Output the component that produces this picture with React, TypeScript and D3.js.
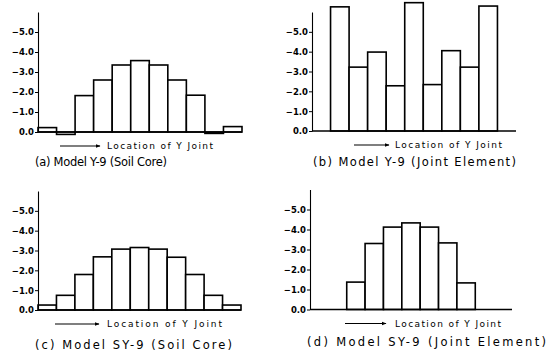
import { useRef, useEffect } from 'react';
import * as d3 from 'd3';

// joint positions along the model (11 locations)
const locations = [1, 2, 3, 4, 5, 6, 7, 8, 9, 10, 11];

// (a) Model Y-9, soil core
const soilCoreY9 = [-0.22, 0.12, -1.82, -2.6, -3.35, -3.57, -3.35, -2.6, -1.84, 0.07, -0.27];
// (b) Model Y-9, joint element (locations 2..10)
const jointLocY9 = [2, 3, 4, 5, 6, 7, 8, 9, 10];
const jointElemY9 = [-6.26, -3.22, -3.98, -2.28, -6.47, -2.34, -4.05, -3.22, -6.3];
// (c) Model SY-9, soil core
const soilCoreSY9 = [-0.25, -0.74, -1.79, -2.68, -3.07, -3.15, -3.07, -2.66, -1.79, -0.74, -0.25];
// (d) Model SY-9, joint element (locations 3..9)
const jointLocSY9 = [3, 4, 5, 6, 7, 8, 9];
const jointElemSY9 = [-1.37, -3.3, -4.12, -4.33, -4.12, -3.33, -1.33];

const yTicks = [0, -1, -2, -3, -4, -5];
const yTickLabels = ['0.0', '−1.0', '−2.0', '−3.0', '−4.0', '−5.0'];

const captions = [
  '(a) Model Y-9 (Soil Core)',
  '(b) Model Y-9 (Joint Element)',
  '(c) Model SY-9 (Soil Core)',
  '(d) Model SY-9 (Joint Element)',
];
const axisLabel = 'Location of Y Joint';

type Panel = {
  left: number;
  right: number;
  base: number;
  top: number;
  locs: number[];
  vals: number[];
  arrow: [number, number];
  labelX: [number, number];
  caption: string;
  capX: [number, number];
  capY: number;
};

const panels: Panel[] = [
  { left: 38, right: 242, base: 132, top: 12, locs: locations, vals: soilCoreY9,
    arrow: [60, 100], labelX: [107, 213], caption: captions[0], capX: [35, 167], capY: 166 },
  { left: 312, right: 516, base: 131, top: 12, locs: jointLocY9, vals: jointElemY9,
    arrow: [354, 389], labelX: [395, 502], caption: captions[1], capX: [313, 516], capY: 166 },
  { left: 38, right: 241, base: 310, top: 191, locs: locations, vals: soilCoreSY9,
    arrow: [55, 99], labelX: [107, 222], caption: captions[2], capX: [35, 232], capY: 349 },
  { left: 310, right: 512, base: 309.5, top: 189.5, locs: jointLocSY9, vals: jointElemSY9,
    arrow: [345, 386], labelX: [395, 501], caption: captions[3], capX: [307, 546], capY: 346 },
];

export default function App() {
  const ref = useRef<SVGSVGElement>(null);

  useEffect(() => {
    const svg = d3.select(ref.current);
    svg.selectAll('*').remove();

    svg.append('defs').append('marker')
      .attr('id', 'arr')
      .attr('viewBox', '0 0 10 10')
      .attr('refX', 9).attr('refY', 5)
      .attr('markerWidth', 5).attr('markerHeight', 5)
      .attr('markerUnits', 'userSpaceOnUse')
      .attr('orient', 'auto')
      .append('path').attr('d', 'M0,1L10,5L0,9Z').attr('fill', '#000');

    panels.forEach((p) => {
      const g = svg.append('g');
      const x = d3.scaleBand<number>().domain(locations).range([p.left, p.right]).padding(0);
      const y = d3.scaleLinear().domain([0, -6]).range([p.base, p.top]);

      // bars
      g.selectAll('rect')
        .data(p.vals.map((v, i) => ({ loc: p.locs[i], v })))
        .join('rect')
        .attr('x', (d) => x(d.loc)!)
        .attr('width', x.bandwidth())
        .attr('y', (d) => Math.min(y(d.v), y(0)))
        .attr('height', (d) => Math.abs(y(d.v) - y(0)))
        .attr('fill', '#fff')
        .attr('stroke', '#000')
        .attr('stroke-width', 1.6);

      // baseline
      g.append('line')
        .attr('x1', p.left).attr('x2', p.right)
        .attr('y1', y(0)).attr('y2', y(0))
        .attr('stroke', '#000').attr('stroke-width', 1.3);

      // y axis
      const yAxis = d3.axisLeft(y)
        .tickValues(yTicks)
        .tickSize(3)
        .tickSizeOuter(0)
        .tickPadding(1)
        .tickFormat((_d, i) => yTickLabels[i]);
      const ag = g.append('g').attr('transform', `translate(${p.left},0)`).call(yAxis);
      ag.select('.domain').attr('stroke', '#000').attr('stroke-width', 1.1);
      ag.selectAll('.tick line').attr('stroke', '#000').attr('stroke-width', 1);
      ag.selectAll('.tick text')
        .attr('fill', '#000')
        .attr('font-family', '"DejaVu Sans", sans-serif')
        .attr('font-weight', 'bold')
        .attr('font-size', 8.5)
        .attr('dy', '0.35em');

      // arrow + label
      const ay = p.base + 14;
      g.append('line')
        .attr('x1', p.arrow[0]).attr('x2', p.arrow[1])
        .attr('y1', ay).attr('y2', ay)
        .attr('stroke', '#000').attr('stroke-width', 1.1)
        .attr('marker-end', 'url(#arr)');
      g.append('text')
        .attr('x', p.labelX[0]).attr('y', ay + 3)
        .attr('textLength', p.labelX[1] - p.labelX[0])
        .attr('lengthAdjust', 'spacing')
        .attr('font-family', '"DejaVu Sans", sans-serif')
        .attr('font-size', 9)
        .attr('fill', '#000')
        .text(axisLabel);

      // caption
      g.append('text')
        .attr('x', p.capX[0]).attr('y', p.capY)
        .attr('textLength', p.capX[1] - p.capX[0])
        .attr('lengthAdjust', 'spacing')
        .attr('font-family', '"DejaVu Sans", sans-serif')
        .attr('font-size', 11.5)
        .attr('fill', '#000')
        .text(p.caption);
    });
  }, []);

  return (
    <svg
      ref={ref}
      width={548}
      height={352}
      style={{ position: 'absolute', left: 0, top: 0, background: '#fff' }}
    />
  );
}
